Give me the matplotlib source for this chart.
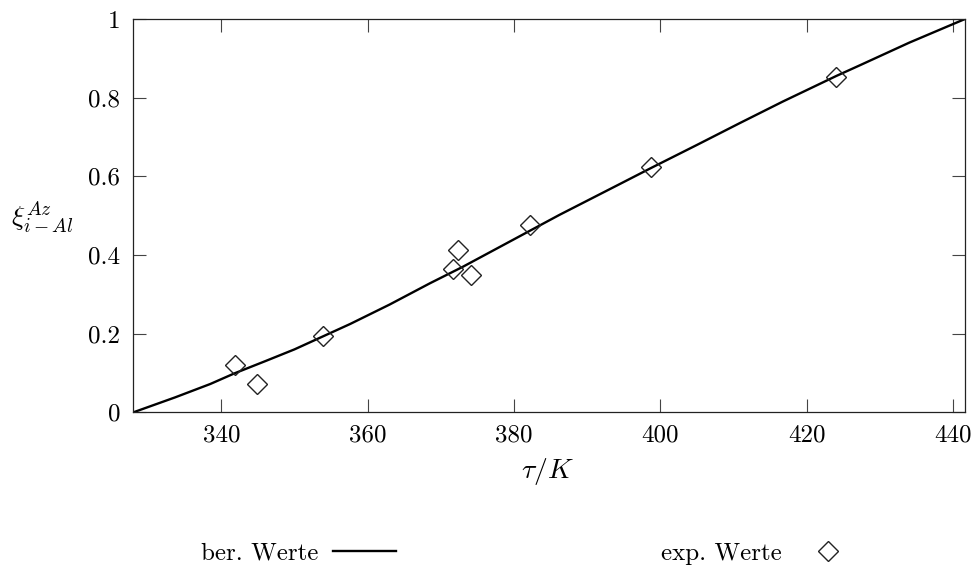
import matplotlib
matplotlib.use('Agg')
import matplotlib.pyplot as plt

plt.rcParams['font.family'] = ['cmr10', 'DejaVu Serif']
plt.rcParams['mathtext.fontset'] = 'cm'
plt.rcParams['axes.unicode_minus'] = False
plt.rcParams['axes.formatter.use_mathtext'] = True

# berechnete Kurve
T_calc = [328.0, 333.7, 338.5, 341.8, 346.0, 350.0, 357.6, 363.0, 368.5, 373.0,
          380.0, 386.2, 394.4, 398.8, 405.0, 410.8, 416.7, 424.0, 427.2, 434.0, 441.6]
xi_calc = [0.0, 0.038, 0.072, 0.099, 0.130, 0.160, 0.2245, 0.274, 0.328, 0.370,
           0.440, 0.502, 0.580, 0.622, 0.680, 0.735, 0.790, 0.855, 0.882, 0.940, 1.0]

# experimentelle Werte
T_exp = [341.83, 344.87, 353.84, 371.59, 372.31, 374.05, 382.18, 398.76, 423.92]
xi_exp = [0.120, 0.072, 0.195, 0.364, 0.413, 0.349, 0.475, 0.624, 0.853]

xticks = [340, 360, 380, 400, 420, 440]
yticks = [0, 0.2, 0.4, 0.6, 0.8, 1]
ytick_labels = ['0', '0.2', '0.4', '0.6', '0.8', '1']

fig = plt.figure(figsize=(9.78, 5.69), dpi=100)
ax = fig.add_axes([0.1357, 0.2754, 0.8510, 0.6912])

l1, = ax.plot(T_calc, xi_calc, '-', color='black', lw=1.7)
l2, = ax.plot(T_exp, xi_exp, 'D', ls='none', ms=10, mfc='none', mec='#222222', mew=1.0)

ax.set_xlim(327.9, 441.6)
ax.set_ylim(0, 1)
ax.set_xticks(xticks)
ax.set_xticklabels([str(t) for t in xticks])
ax.set_yticks(yticks)
ax.set_yticklabels(ytick_labels)
ax.tick_params(direction='in', length=9.5, width=0.8, color='#444444',
               top=True, right=True, labelsize=18, pad=9)
for s in ax.spines.values():
    s.set_linewidth(0.9)
    s.set_color('#222222')

fig.text(0.56, 0.172, r'$\tau/K$', fontsize=20, ha='center', va='center')
fig.text(0.043, 0.618, r'$\xi_{i-Al}^{Az}$', fontsize=20, ha='center', va='center')

fig.legend([l1, l2], ['ber. Werte', 'exp. Werte'], loc='center',
           bbox_to_anchor=(0.542, 0.027), ncol=2, markerfirst=False, frameon=False,
           handlelength=2.5, handletextpad=0.6, columnspacing=10.6, fontsize=18)

fig.savefig('out.png', dpi=100)
